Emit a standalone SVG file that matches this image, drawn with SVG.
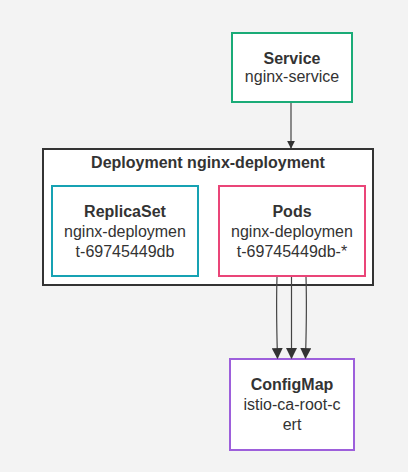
<svg xmlns="http://www.w3.org/2000/svg" width="408" height="472" viewBox="0 0 408 472">
<style>
text{font-family:"Liberation Sans",Arial,sans-serif;font-size:16px;fill:#333;text-anchor:middle}
.b{font-weight:bold}
rect.n{fill:#fff;stroke-width:2}
.c{fill:none;stroke:#444;stroke-width:1.2}
</style>
<defs>
<marker id="ah" viewBox="0 0 10 10" refX="9" refY="5" markerWidth="8" markerHeight="8" markerUnits="userSpaceOnUse" orient="auto"><path d="M0,0 L10,5 L0,10 z" fill="#333"/></marker>
<marker id="ah2" viewBox="0 0 10 10" refX="9" refY="5" markerWidth="11" markerHeight="11" markerUnits="userSpaceOnUse" orient="auto"><path d="M0,0 L10,5 L0,10 z" fill="#333"/></marker>
</defs>
<rect width="408" height="472" fill="#f3f3f3"/>
<g id="deployment">
<rect x="43" y="149" width="330" height="136" fill="#fff" stroke="#333" stroke-width="2"/>
<text class="b" x="208" y="168">Deployment nginx-deployment</text>
</g>
<g id="service">
<rect class="n" x="232" y="33" width="120" height="69" stroke="#1aab77"/>
<text class="b" x="292" y="64">Service</text>
<text x="292" y="82">nginx-service</text>
</g>
<g id="replicaset">
<rect class="n" x="52" y="186" width="146" height="90" stroke="#16a2b3"/>
<text class="b" x="125" y="217">ReplicaSet</text>
<text x="125" y="237">nginx-deploymen</text>
<text x="125" y="257">t-69745449db</text>
</g>
<g id="pods">
<rect class="n" x="219" y="186" width="146" height="90" stroke="#ea4578"/>
<text class="b" x="292" y="217">Pods</text>
<text x="292" y="237">nginx-deploymen</text>
<text x="292" y="257">t-69745449db-*</text>
</g>
<g id="configmap">
<rect class="n" x="230" y="359" width="124" height="91" stroke="#9d5fdb"/>
<text class="b" x="292" y="390">ConfigMap</text>
<text x="292" y="410">istio-ca-root-c</text>
<text x="292" y="430">ert</text>
</g>
<g id="connectors">
<path class="c" d="M291,103 L291,148" marker-end="url(#ah)"/>
<path class="c" d="M277,277 C276,310 277,340 277.5,358" marker-end="url(#ah2)"/>
<path class="c" d="M291.5,277 L291.5,358" marker-end="url(#ah2)"/>
<path class="c" d="M306,277 C307,310 306,340 305.5,358" marker-end="url(#ah2)"/>
</g>
</svg>
